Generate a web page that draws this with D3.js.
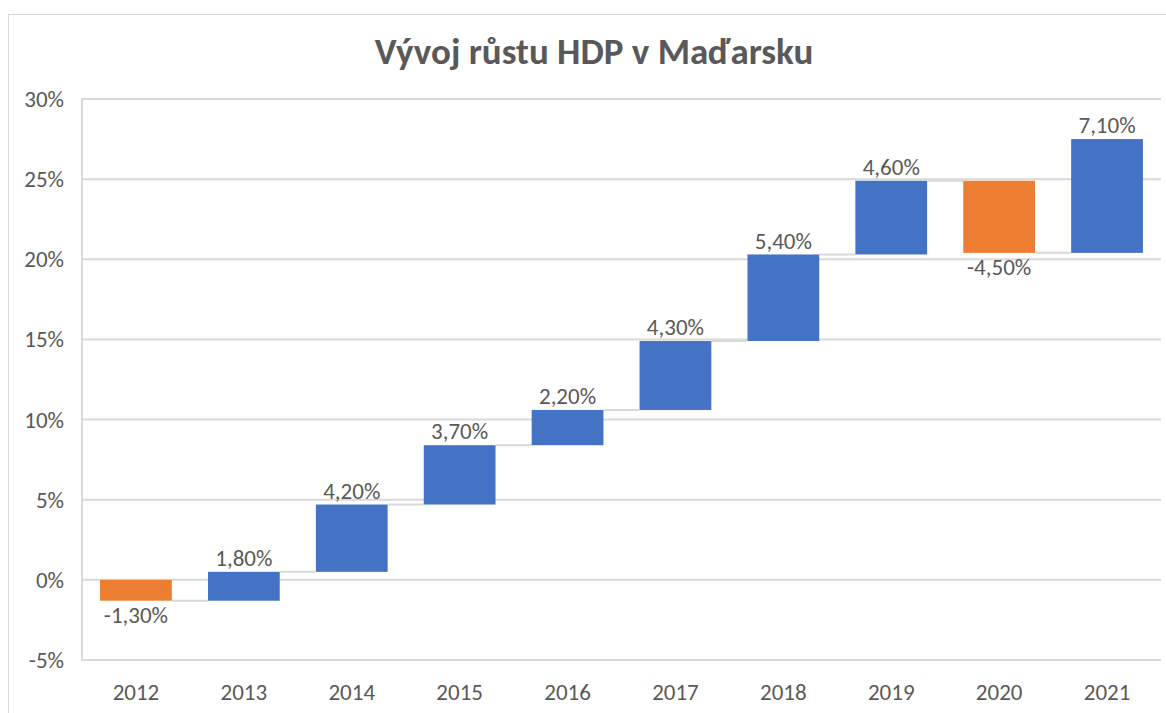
<!DOCTYPE html>
<html><head><meta charset="utf-8">
<script src="https://cdn.jsdelivr.net/npm/d3@7"></script>
<style>body{margin:0;background:#fff;} svg{display:block;}</style>
</head><body>
<svg id="c" width="1166" height="713"></svg>
<script>
const title = "Vývoj růstu HDP v Maďarsku";
const years = ["2012","2013","2014","2015","2016","2017","2018","2019","2020","2021"];
const changes = [-1.3, 1.8, 4.2, 3.7, 2.2, 4.3, 5.4, 4.6, -4.5, 7.1];
const yTicks = [-5, 0, 5, 10, 15, 20, 25, 30];

(function(){
const svg = d3.select("#c");
const font = "Calibri, Carlito, 'Open Sans', sans-serif";
const gray = "#595959";
const grid = "#d9d9d9";

// frame
svg.append("rect").attr("x",8.5).attr("y",14.5).attr("width",1170).attr("height",720)
  .attr("fill","none").attr("stroke","#d9d9d9").attr("stroke-width",1);

const pL = 82, pR = 1161, pT = 99, pB = 660;
const x = d3.scaleBand().domain(years).range([pL, pR]).paddingInner(0.335).paddingOuter(0.1675);
const y = d3.scaleLinear().domain([-5, 30]).range([pB, pT]);

let cum = 0;
const data = years.map((yr, i) => {
  const start = cum; cum = +(cum + changes[i]).toFixed(2);
  return {year: yr, v: changes[i], start, end: cum};
});

// gridlines
svg.append("g").selectAll("line").data(yTicks).join("line")
  .attr("x1", pL).attr("x2", pR)
  .attr("y1", d => y(d)).attr("y2", d => y(d))
  .attr("stroke", grid).attr("stroke-width", 2);
svg.append("line").attr("x1", pL).attr("x2", pL).attr("y1", pT - 1).attr("y2", pB + 1)
  .attr("stroke", grid).attr("stroke-width", 2);

// y labels
svg.append("g").selectAll("text").data(yTicks).join("text")
  .attr("x", 64).attr("y", d => y(d)).attr("dy","0.35em").attr("text-anchor","end")
  .attr("font-family", font).attr("font-size", 23).attr("fill", gray)
  .text(d => d + "%");

// x labels
svg.append("g").selectAll("text").data(years).join("text")
  .attr("x", d => x(d) + x.bandwidth()/2).attr("y", 692).attr("dy","0.35em")
  .attr("text-anchor","middle").attr("font-family", font).attr("font-size", 23).attr("fill", gray)
  .text(d => d);

// connectors
svg.append("g").selectAll("line").data(data.slice(0, -1)).join("line")
  .attr("x1", d => x(d.year) + x.bandwidth())
  .attr("x2", (d, i) => x(data[i+1].year))
  .attr("y1", d => y(d.end)).attr("y2", d => y(d.end))
  .attr("stroke", grid).attr("stroke-width", 2);

// bars
svg.append("g").selectAll("rect").data(data).join("rect")
  .attr("x", d => x(d.year)).attr("width", x.bandwidth())
  .attr("y", d => y(Math.max(d.start, d.end)))
  .attr("height", d => Math.abs(y(d.start) - y(d.end)))
  .attr("fill", d => d.v < 0 ? "#ed7d31" : "#4472c4");

// value labels
const fmt = v => v.toFixed(2).replace(".", ",") + "%";
svg.append("g").selectAll("text").data(data).join("text")
  .attr("x", d => x(d.year) + x.bandwidth()/2)
  .attr("y", d => d.v < 0 ? y(Math.min(d.start, d.end)) + 14 : y(Math.max(d.start, d.end)) - 14)
  .attr("dy","0.35em").attr("text-anchor","middle")
  .attr("font-family", font).attr("font-size", 23).attr("fill", gray)
  .text(d => fmt(d.v));

// title
svg.append("text").attr("x", 594).attr("y", 51).attr("dy","0.35em").attr("text-anchor","middle")
  .attr("font-family", font).attr("font-size", 37).attr("font-weight","bold").attr("fill", gray)
  .text(title);
})();
</script>
</body></html>
